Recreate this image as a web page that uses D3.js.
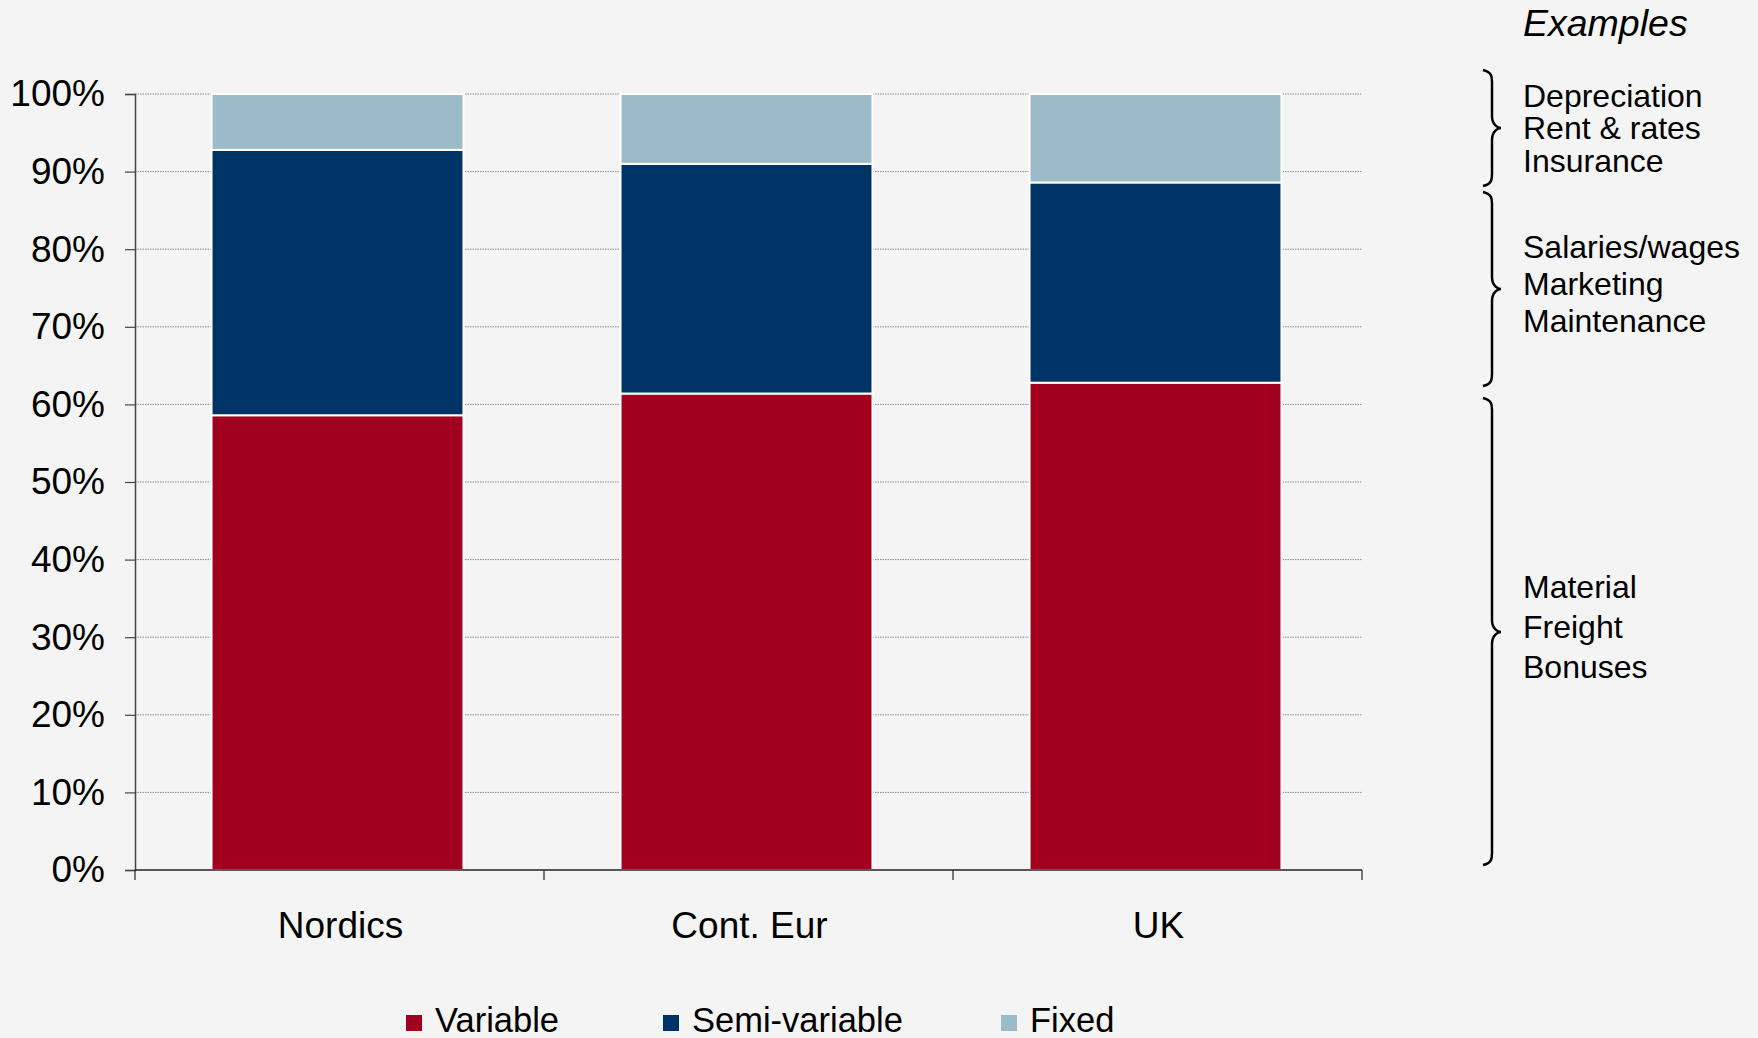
<!DOCTYPE html>
<html>
<head>
<meta charset="utf-8">
<script src="https://cdn.jsdelivr.net/npm/d3@7"></script>
<style>
  html, body { margin: 0; padding: 0; background: #f4f4f4; }
  svg { display: block; font-family: "Liberation Sans", Arial, Helvetica, sans-serif; }
</style>
</head>
<body>
<svg id="chart" width="1758" height="1038"></svg>
<script>
// Cost structure by region (% of total cost)
const categories = ["Nordics", "Cont. Eur", "UK"];
const seriesNames = ["Variable", "Semi-variable", "Fixed"];
const variableShare = [58.6, 61.4, 62.8];
const semiVariableShare = [34.2, 29.6, 25.8];
const fixedShare = [7.2, 9.0, 11.4];
const yTicks = [0, 10, 20, 30, 40, 50, 60, 70, 80, 90, 100];
const seriesColors = ["#a2001f", "#003366", "#9bbbc8"];

// Example cost items for each cost type
const exampleGroups = [
  { lines: ["Depreciation", "Rent & rates", "Insurance"] },
  { lines: ["Salaries/wages", "Marketing", "Maintenance"] },
  { lines: ["Material", "Freight", "Bonuses"] }
];

const svg = d3.select("#chart");
const W = 1758, H = 1038;
svg.append("rect").attr("width", W).attr("height", H).attr("fill", "#f4f4f4");

const plot = { left: 135, right: 1362, top: 94, bottom: 870 };

const x = d3.scaleBand()
  .domain(categories)
  .range([plot.left, plot.right])
  .paddingInner(0.384)
  .paddingOuter(0.192);

const y = d3.scaleLinear().domain([0, 100]).range([plot.bottom, plot.top]);

const rows = categories.map((c, i) => ({
  category: c,
  "Variable": variableShare[i],
  "Semi-variable": semiVariableShare[i],
  "Fixed": fixedShare[i]
}));
const stacked = d3.stack().keys(seriesNames)(rows);

// dotted horizontal gridlines
svg.append("g")
  .selectAll("line")
  .data(yTicks.filter(t => t > 0))
  .join("line")
  .attr("x1", plot.left).attr("x2", plot.right)
  .attr("y1", d => y(d)).attr("y2", d => y(d))
  .attr("stroke", "#8a8a8a")
  .attr("stroke-width", 1)
  .attr("stroke-dasharray", "1.5,1");

// stacked bars (drawn a touch left of the band centre)
const barShift = -2;
svg.append("g")
  .selectAll("g")
  .data(stacked)
  .join("g")
  .attr("fill", (d, i) => seriesColors[i])
  .selectAll("rect")
  .data(d => d)
  .join("rect")
  .attr("x", d => x(d.data.category) + barShift)
  .attr("width", x.bandwidth())
  .attr("y", d => y(d[1]))
  .attr("height", d => y(d[0]) - y(d[1]))
  .attr("stroke", "#ffffff")
  .attr("stroke-width", 2);

// y axis
const yAxis = svg.append("g")
  .attr("transform", `translate(${plot.left},0)`)
  .call(d3.axisLeft(y).tickValues(yTicks).tickFormat(d => d + "%").tickSize(10).tickPadding(20));
yAxis.select(".domain").attr("stroke", "#444").attr("stroke-width", 1.5);
yAxis.selectAll(".tick line").attr("stroke", "#444").attr("stroke-width", 1.2);
yAxis.selectAll(".tick text")
  .attr("fill", "#000")
  .style("font-size", "37px")
  .style("font-family", "'Liberation Sans', Arial, sans-serif");

// x axis: line with ticks at category boundaries, labels centred on bars
svg.append("line")
  .attr("x1", plot.left).attr("x2", plot.right)
  .attr("y1", plot.bottom).attr("y2", plot.bottom)
  .attr("stroke", "#222").attr("stroke-width", 1.5);

const step = x.step();
const boundaries = d3.range(categories.length + 1).map(i => plot.left + i * step);
svg.append("g")
  .selectAll("line")
  .data(boundaries)
  .join("line")
  .attr("x1", d => d).attr("x2", d => d)
  .attr("y1", plot.bottom).attr("y2", plot.bottom + 10)
  .attr("stroke", "#222").attr("stroke-width", 1.2);

svg.append("g")
  .selectAll("text")
  .data(categories)
  .join("text")
  .attr("x", d => x(d) + x.bandwidth() / 2 + 1)
  .attr("y", 938)
  .attr("text-anchor", "middle")
  .style("font-size", "37px")
  .attr("fill", "#000")
  .text(d => d);

// legend
const legendX = [406, 663, 1001];
const legend = svg.append("g")
  .selectAll("g")
  .data(seriesNames)
  .join("g")
  .attr("transform", (d, i) => `translate(${legendX[i]},0)`);
legend.append("rect")
  .attr("x", 0).attr("y", 1015)
  .attr("width", 16).attr("height", 16)
  .attr("fill", (d, i) => seriesColors[i]);
legend.append("text")
  .attr("x", 29).attr("y", 1032)
  .style("font-size", "34.5px")
  .attr("fill", "#000")
  .text(d => d);

// "Examples" heading
svg.append("text")
  .attr("x", 1523).attr("y", 36)
  .style("font-size", "37.5px")
  .style("font-style", "italic")
  .attr("fill", "#000")
  .text("Examples");

// curly braces next to the example lists
function bracePath(x0, y0, y1, ym) {
  const xv = x0 + 9, tip = x0 + 18, r = 12;
  return `M${x0},${y0}` +
    ` C${xv},${y0 + 2} ${xv},${y0 + r * 0.6} ${xv},${y0 + r}` +
    ` L${xv},${ym - r}` +
    ` C${xv},${ym - 3} ${tip - 3},${ym} ${tip},${ym}` +
    ` C${tip - 3},${ym} ${xv},${ym + 3} ${xv},${ym + r}` +
    ` L${xv},${y1 - r}` +
    ` C${xv},${y1 - r * 0.6} ${xv},${y1 - 2} ${x0},${y1}`;
}
const braces = [
  { y0: 70, y1: 186, ym: 128 },
  { y0: 192, y1: 386, ym: 289 },
  { y0: 398, y1: 865, ym: 632 }
];
svg.append("g")
  .selectAll("path")
  .data(braces)
  .join("path")
  .attr("d", d => bracePath(1483, d.y0, d.y1, d.ym))
  .attr("fill", "none")
  .attr("stroke", "#000")
  .attr("stroke-width", 2.5);

// example text lines
const lineBaselines = [
  [107, 139, 172],
  [258, 295, 332],
  [598, 638, 678]
];
const exText = svg.append("g");
exampleGroups.forEach((g, gi) => {
  g.lines.forEach((t, li) => {
    exText.append("text")
      .attr("x", 1523).attr("y", lineBaselines[gi][li])
      .style("font-size", "32px")
      .attr("fill", "#000")
      .text(t);
  });
});
</script>
</body>
</html>
